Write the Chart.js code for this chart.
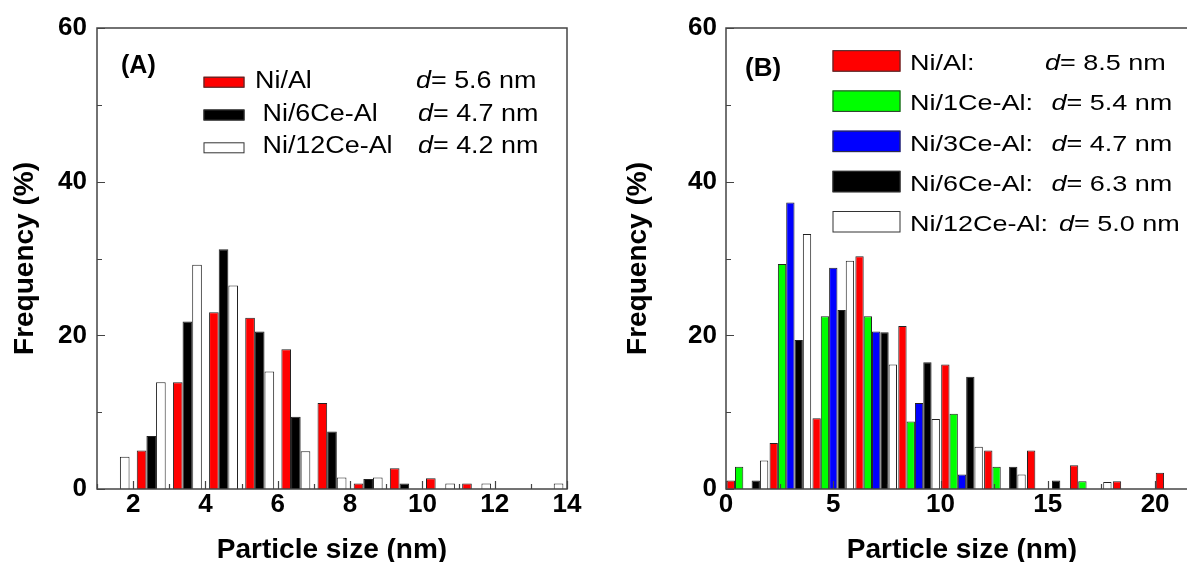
<!DOCTYPE html>
<html>
<head>
<meta charset="utf-8">
<script src="https://cdn.jsdelivr.net/npm/chart.js@4.4.1/dist/chart.umd.min.js"></script>
<style>
  html, body { margin: 0; padding: 0; background: #fff; overflow: hidden; width: 1187px; height: 562px; }
  #wrapA { position: absolute; left: 0; top: 0; width: 600px; height: 562px; }
  #wrapB { position: absolute; left: 600px; top: 0; width: 620px; height: 562px; }
</style>
</head>
<body>
<div id="wrapA"><canvas id="chartA" width="600" height="562"></canvas></div>
<div id="wrapB"><canvas id="chartB" width="620" height="562"></canvas></div>
<script>
// ---- panel A : bin centres (nm) and frequencies (%)
const binsA = [1.5, 2.5, 3.5, 4.5, 5.5, 6.5, 7.5, 8.5, 9.5, 10.5, 11.5, 12.5, 13.5];
const niAlA    = [0, 5.0, 13.9, 23.0, 22.3, 18.2, 11.2, 0.7, 2.7, 1.4, 0.7, 0, 0];
const ni6CeA   = [0, 6.9, 21.8, 31.2, 20.5, 9.4, 7.5, 1.3, 0.7, 0, 0, 0, 0];
const ni12CeA  = [4.2, 13.9, 29.2, 26.5, 15.3, 4.9, 1.5, 1.5, 0, 0.7, 0.7, 0, 0.7];
const namesA = ['Ni/Al', ' Ni/6Ce-Al', ' Ni/12Ce-Al'];
const meansA = ['5.6', '4.7', '4.2'];
const xTicksA = [2, 4, 6, 8, 10, 12, 14];

// ---- panel B
const binsB = [1, 3, 5, 7, 9, 11, 13, 15, 17, 19, 21];
const niAlB    = [1.1, 6.0, 9.2, 30.3, 21.2, 16.2, 5.0, 5.0, 3.1, 1.0, 2.1];
const ni1CeB   = [2.9, 29.3, 22.5, 22.5, 8.8, 9.8, 2.9, 0, 1.0, 0, 0];
const ni3CeB   = [0, 37.3, 28.8, 20.5, 11.2, 1.9, 0, 0, 0, 0, 0];
const ni6CeB   = [1.1, 19.4, 23.3, 20.4, 16.5, 14.6, 2.9, 1.1, 0, 0, 0];
const ni12CeB  = [3.7, 33.2, 29.7, 16.2, 9.1, 5.5, 1.9, 0, 0.9, 0, 0];
const namesB = ['Ni/Al:', 'Ni/1Ce-Al:', 'Ni/3Ce-Al:', 'Ni/6Ce-Al:', 'Ni/12Ce-Al:'];
const meansB = ['8.5', '5.4', '4.7', '6.3', '5.0'];
const xTicksB = [0, 5, 10, 15, 20];

const yTicks = [0, 20, 40, 60];

const FONT = 'Liberation Sans, Arial, sans-serif';

// frame round the plot, inward ticks (major + minor), legend box and panel tag
const framePlugin = {
  id: 'frame',
  afterDraw(chart, args, o) {
    const { ctx, chartArea: a, scales: { x, y } } = chart;
    ctx.save();
    ctx.strokeStyle = '#444';
    ctx.lineWidth = 1.5;
    ctx.strokeRect(a.left, a.top, a.right - a.left, a.bottom - a.top);

    ctx.lineWidth = 1.2;
    ctx.beginPath();
    const isMajor = (scale, v) => scale.ticks.some(t => Math.abs(t.value - v) < 1e-6);
    for (let v = x.min; v <= x.max + 1e-6; v += o.xMinor) {
      const px = Math.round(x.getPixelForValue(v)) + 0.5;
      const len = isMajor(x, v) ? 8 : 5;
      ctx.moveTo(px, a.bottom); ctx.lineTo(px, a.bottom - len);
    }
    for (let v = y.min; v <= y.max + 1e-6; v += o.yMinor) {
      const py = Math.round(y.getPixelForValue(v)) + 0.5;
      const len = isMajor(y, v) ? 8 : 5;
      ctx.moveTo(a.left, py); ctx.lineTo(a.left + len, py);
    }
    ctx.stroke();

    // panel tag
    ctx.fillStyle = '#000';
    ctx.font = 'bold ' + o.tag.size + 'px ' + FONT;
    ctx.textBaseline = 'alphabetic';
    ctx.fillText(o.tag.text, o.tag.x, o.tag.y);

    // legend
    const L = o.legend;
    chart.data.datasets.forEach((ds, i) => {
      const base = L.y0 + i * L.dy;
      ctx.fillStyle = ds.backgroundColor;
      ctx.strokeStyle = '#333';
      ctx.lineWidth = 1;
      ctx.fillRect(L.sx, base - L.sh + L.sOff, L.sw, L.sh);
      ctx.strokeRect(L.sx + 0.5, base - L.sh + L.sOff + 0.5, L.sw - 1, L.sh - 1);

      ctx.fillStyle = '#000';
      ctx.font = L.size + 'px ' + FONT;
      ctx.save();
      ctx.translate(L.tx, base);
      ctx.scale(L.stretch, 1);
      ctx.fillText(ds.label, 0, 0);
      ctx.restore();

      const dx = L.dx[i];
      ctx.save();
      ctx.translate(dx, base);
      ctx.scale(L.stretch, 1);
      ctx.font = 'italic ' + L.size + 'px ' + FONT;
      ctx.fillText('d', 0, 0);
      const w = ctx.measureText('d').width;
      ctx.font = L.size + 'px ' + FONT;
      ctx.fillText('= ' + o.means[i] + ' nm', w, 0);
      ctx.restore();
    });
    ctx.restore();
  }
};

function bars(label, data, bins, color) {
  return {
    label: label,
    data: bins.map((b, i) => ({ x: b, y: data[i] })),
    backgroundColor: color,
    borderColor: '#222',
    borderWidth: c => (c.raw && c.raw.y > 0 ? 1 : 0),
    borderSkipped: 'start'
  };
}

function makeChart(id, p) {
  return new Chart(document.getElementById(id), {
    type: 'bar',
    data: { datasets: p.datasets },
    options: {
      responsive: false,
      animation: false,
      devicePixelRatio: 1,
      events: [],
      layout: { padding: { top: 28, right: p.padRight, left: 0, bottom: 0 } },
      datasets: { bar: { categoryPercentage: p.catPct, barPercentage: 1, grouped: true } },
      scales: {
        x: {
          type: 'linear',
          offset: false,
          min: p.xMin, max: p.xMax,
          grid: { display: false, drawTicks: false },
          border: { display: false },
          afterBuildTicks: s => { s.ticks = p.xTicks.map(v => ({ value: v })); },
          afterFit: s => { s.height = 73; },
          ticks: { autoSkip: false, maxRotation: 0, padding: 0, color: '#000',
                   font: { family: FONT, size: 26, weight: 'bold' } },
          title: { display: true, text: 'Particle size (nm)', color: '#000',
                   padding: { top: 0, bottom: 0 },
                   font: { family: FONT, size: 28, weight: 'bold', lineHeight: 0.84 } }
        },
        y: {
          min: 0, max: 60,
          grid: { display: false, drawTicks: false },
          border: { display: false },
          afterBuildTicks: s => { s.ticks = yTicks.map(v => ({ value: v })); },
          afterFit: s => { s.width = p.yWidth; },
          ticks: { padding: p.yPad, color: '#000', font: { family: FONT, size: 26, weight: 'bold' } },
          title: { display: true, text: 'Frequency (%)', color: '#000',
                   padding: { top: p.yTitlePad, bottom: 0 },
                   font: { family: FONT, size: 28, weight: 'bold' } }
        }
      },
      plugins: {
        legend: { display: false },
        tooltip: { enabled: false },
        frame: p.frame
      }
    },
    plugins: [framePlugin]
  });
}

makeChart('chartA', {
  datasets: [
    bars(namesA[0], niAlA, binsA, '#ff0000'),
    bars(namesA[1], ni6CeA, binsA, '#000000'),
    bars(namesA[2], ni12CeA, binsA, '#ffffff')
  ],
  xMin: 1, xMax: 14, xTicks: xTicksA, catPct: 0.8,
  padRight: 33, yWidth: 97, yPad: 10, yTitlePad: 8.5,
  frame: {
    xMinor: 1, yMinor: 10, means: meansA,
    tag: { text: '(A)', size: 25, x: 121, y: 73 },
    legend: { sx: 203.5, sw: 41, sh: 11, sOff: 0, y0: 87.7, dy: 32.8,
              tx: 255, dx: [416, 418, 418], size: 23, stretch: 1.17 }
  }
});

makeChart('chartB', {
  datasets: [
    bars(namesB[0], niAlB, binsB, '#ff0000'),
    bars(namesB[1], ni1CeB, binsB, '#00ff00'),
    bars(namesB[2], ni3CeB, binsB, '#0000ff'),
    bars(namesB[3], ni6CeB, binsB, '#000000'),
    bars(namesB[4], ni12CeB, binsB, '#ffffff')
  ],
  xMin: 0, xMax: 22, xTicks: xTicksB, catPct: 0.97,
  padRight: 22, yWidth: 126, yPad: 9, yTitlePad: 21.5,
  frame: {
    xMinor: 2.5, yMinor: 10, means: meansB,
    tag: { text: '(B)', size: 26, x: 145, y: 76 },
    legend: { sx: 232.5, sw: 68, sh: 21.5, sOff: 1.5, y0: 70.2, dy: 40.2,
              tx: 310, dx: [445, 451.5, 451.5, 451.5, 459], size: 22.5, stretch: 1.2 }
  }
});
</script>
</body>
</html>
